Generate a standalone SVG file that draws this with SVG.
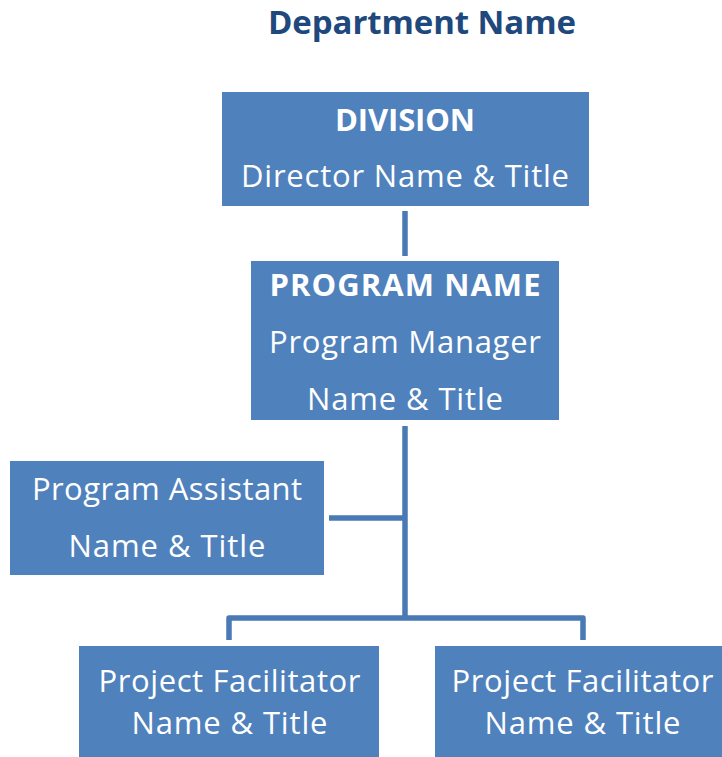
<svg xmlns="http://www.w3.org/2000/svg" width="722" height="757" viewBox="0 0 722 757">
  <style>
    .box { fill: #4F81BD; }
    .t { font-family: "Open Sans", "Liberation Sans", sans-serif; font-size: 31px; fill: #FFFFFF; text-anchor: middle; }
    .b { font-weight: bold; }
    .title { font-family: "Open Sans", "Liberation Sans", sans-serif; font-size: 33px; font-weight: bold; fill: #1F497D; text-anchor: middle; }
    .link { fill: none; stroke: #4A7AB5; stroke-width: 5.5; stroke-linejoin: round; }
  </style>
  <rect width="722" height="757" fill="#FFFFFF"/>

  <text class="title" x="422" y="34" textLength="308">Department Name</text>

  <g id="connectors">
    <line class="link" x1="405" y1="211" x2="405" y2="256"/>
    <line class="link" x1="405" y1="426" x2="405" y2="618"/>
    <line class="link" x1="329" y1="518" x2="405" y2="518"/>
    <path class="link" d="M229 640 V618 H583 V640"/>
  </g>

  <g id="division">
    <rect class="box" x="222" y="92" width="367" height="114"/>
    <text class="t b" x="405" y="131" textLength="140">DIVISION</text>
    <text class="t" x="405" y="187" textLength="328">Director Name &amp; Title</text>
  </g>

  <g id="program">
    <rect class="box" x="251" y="261" width="308" height="159"/>
    <text class="t b" x="405" y="296" textLength="271">PROGRAM NAME</text>
    <text class="t" x="405" y="353" textLength="272">Program Manager</text>
    <text class="t" x="405" y="410" textLength="196">Name &amp; Title</text>
  </g>

  <g id="assistant">
    <rect class="box" x="10" y="461" width="314" height="114"/>
    <text class="t" x="167" y="500" textLength="270">Program Assistant</text>
    <text class="t" x="167" y="557" textLength="197">Name &amp; Title</text>
  </g>

  <g id="facilitator-1">
    <rect class="box" x="79" y="646" width="300" height="111"/>
    <text class="t" x="229.5" y="692" textLength="262">Project Facilitator</text>
    <text class="t" x="229.5" y="734" textLength="196">Name &amp; Title</text>
  </g>

  <g id="facilitator-2">
    <rect class="box" x="435" y="646" width="295" height="111"/>
    <text class="t" x="582.5" y="692" textLength="262">Project Facilitator</text>
    <text class="t" x="582.5" y="734" textLength="196">Name &amp; Title</text>
  </g>
</svg>
